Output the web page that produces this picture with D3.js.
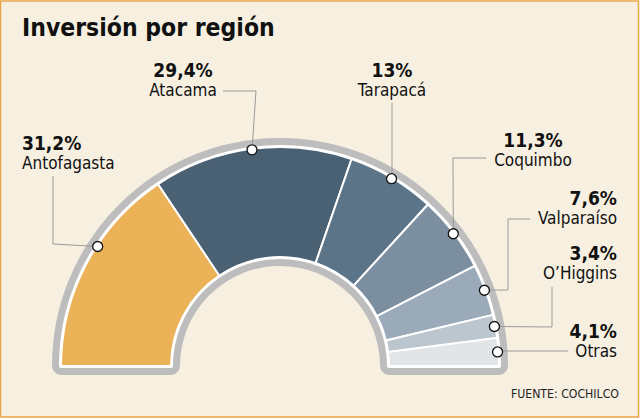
<!DOCTYPE html>
<html>
<head>
<meta charset="utf-8">
<script src="https://cdn.jsdelivr.net/npm/d3@7"></script>
<style>
  body { margin: 0; background: #fff; }
  svg { display: block; }
</style>
</head>
<body>
<script>
// data
let regions = ["Antofagasta", "Atacama", "Tarapacá", "Coquimbo", "Valparaíso", "O’Higgins", "Otras"];
let shares = [31.2, 29.4, 13, 11.3, 7.6, 3.4, 4.1];
let share_labels = ["31,2%", "29,4%", "13%", "11,3%", "7,6%", "3,4%", "4,1%"];
let colors = ["#ebb257", "#4a6073", "#5c7488", "#7b8fa1", "#9aaab8", "#bcc6cf", "#e1e5e8"];

let width = 640, height = 419;
let cx = 280, cy = 366;
let r_outer = 219, r_inner = 109;
let font = "'DejaVu Sans Condensed', 'DejaVu Sans', sans-serif";

let svg = d3.select("body").append("svg")
    .attr("width", width)
    .attr("height", height);

// background and frame
svg.append("rect")
    .attr("x", 0.5).attr("y", 1)
    .attr("width", width - 2).attr("height", height - 3)
    .attr("fill", "#f7f0e1")
    .attr("stroke", "#e8a545")
    .attr("stroke-width", 1.5);

svg.append("text")
    .attr("x", 22).attr("y", 36)
    .style("font-family", font)
    .style("font-weight", "bold")
    .style("font-size", "24.5px")
    .attr("fill", "#111")
    .text("Inversión por región");

// half donut: angle goes from -90deg (left) to +90deg (right)
let pie = d3.pie().sort(null).value(d => d)
    .startAngle(-Math.PI / 2).endAngle(Math.PI / 2);
let arcs = pie(shares);

let g = svg.append("g").attr("transform", "translate(" + cx + "," + cy + ")");

// gray rim + white gap round the whole half ring
let rim = d3.arc().innerRadius(r_inner).outerRadius(r_outer)
    .startAngle(-Math.PI / 2).endAngle(Math.PI / 2);
g.append("path").attr("d", rim())
    .attr("fill", "#bdbdbd").attr("stroke", "#bdbdbd")
    .attr("stroke-width", 18).attr("stroke-linejoin", "round");
g.append("path").attr("d", rim())
    .attr("fill", "#fff").attr("stroke", "#fff")
    .attr("stroke-width", 4).attr("stroke-linejoin", "round");

let arc = d3.arc().innerRadius(r_inner).outerRadius(r_outer);
g.selectAll("path.slice").data(arcs).enter().append("path")
    .attr("class", "slice")
    .attr("d", arc)
    .attr("fill", (d, i) => colors[i])
    .attr("stroke", "#fff")
    .attr("stroke-width", 2);

// label layout: text anchor + leader line bend points (relative to the page)
let label_layout = [
    {x: 22, y: 150, anchor: "start", dot_shift: 0.09, path: [[53, 176], [53, 244]]},
    {x: 183, y: 77, anchor: "middle", dot_shift: 0, path: [[223, 91], [256, 91]]},
    {x: 392, y: 77, anchor: "middle", dot_shift: 0, path: [[392, 103]]},
    {x: 533, y: 147, anchor: "middle", dot_shift: 0, path: [[486, 158], [453, 158]]},
    {x: 617, y: 205, anchor: "end", dot_shift: 0, path: [[530, 219], [508, 219], [508, 290]]},
    {x: 617, y: 260, anchor: "end", dot_shift: 0, path: [[552, 287], [552, 327]]},
    {x: 617, y: 338, anchor: "end", dot_shift: 0, path: [[568, 351]]}
];

let dot_r = 218;
let dots = arcs.map((d, i) => {
    let a = (d.startAngle + d.endAngle) / 2 + label_layout[i].dot_shift;
    return [cx + dot_r * Math.sin(a), cy - dot_r * Math.cos(a)];
});

let line = d3.line();
label_layout.forEach((l, i) => {
    let pts = l.path.slice();
    let dot = dots[i];
    // last leg goes straight to the dot
    let last = pts[pts.length - 1];
    if (i == 2) pts.push([last[0], dot[1]]);
    else if (i == 6) pts.push([dot[0], last[1]]);
    else pts.push(dot);
    svg.append("path")
        .attr("d", line(pts))
        .attr("fill", "none")
        .attr("stroke", "#9a9a9a")
        .attr("stroke-width", 1);
});

svg.selectAll("circle.dot").data(dots).enter().append("circle")
    .attr("class", "dot")
    .attr("cx", d => d[0]).attr("cy", d => d[1])
    .attr("r", 5)
    .attr("fill", "#fff")
    .attr("stroke", "#111")
    .attr("stroke-width", 1.3);

label_layout.forEach((l, i) => {
    svg.append("text")
        .attr("x", l.x).attr("y", l.y)
        .attr("text-anchor", l.anchor)
        .style("font-family", font)
        .style("font-weight", "bold")
        .style("font-size", "19px")
        .attr("fill", "#111")
        .text(share_labels[i]);
    svg.append("text")
        .attr("x", l.x).attr("y", l.y + 19)
        .attr("text-anchor", l.anchor)
        .style("font-family", font)
        .style("font-size", "17px")
        .attr("fill", "#111")
        .text(regions[i]);
});

svg.append("text")
    .attr("x", 619).attr("y", 398)
    .attr("text-anchor", "end")
    .style("font-family", font)
    .style("font-size", "12.2px")
    .attr("fill", "#222")
    .text("FUENTE: COCHILCO");
</script>
</body>
</html>
